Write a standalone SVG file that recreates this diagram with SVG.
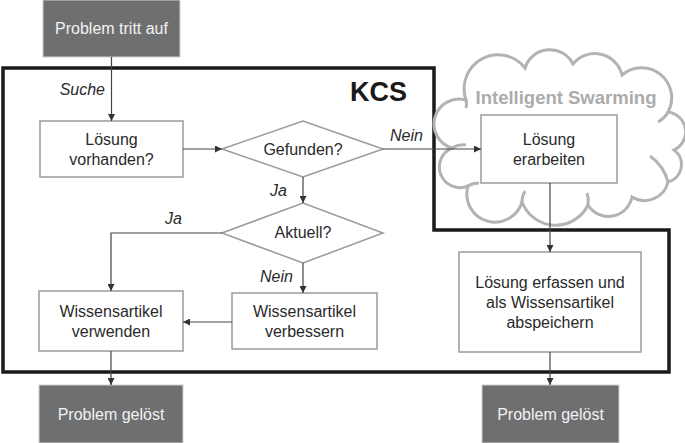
<svg xmlns="http://www.w3.org/2000/svg" width="685" height="443" viewBox="0 0 685 443">
<defs>
<marker id="ah" viewBox="0 0 10 10" refX="10" refY="5" markerWidth="7" markerHeight="7" markerUnits="userSpaceOnUse" orient="auto">
<path d="M0,0 L10,5 L0,10 z" fill="#333"/>
</marker>
<style>
.box{fill:#fff;stroke:#9a9a9a;stroke-width:1.5}
.dark{fill:#6e6f71;stroke:#d0d0d0;stroke-width:1}
.t{font-family:"Liberation Sans",Arial,sans-serif;font-size:16px;fill:#2a2a2a;text-anchor:middle}
.tw{font-family:"Liberation Sans",Arial,sans-serif;font-size:16px;fill:#f2f2f2;text-anchor:middle}
.lbl{font-family:"Liberation Sans",Arial,sans-serif;font-size:16px;font-style:italic;fill:#2a2a2a}
.c{fill:none;stroke:#444;stroke-width:1.2;marker-end:url(#ah)}
.hook{fill:none;stroke:#b3b3b3;stroke-width:3}
</style>
</defs>
<rect width="685" height="443" fill="#fff"/>
<!-- KCS boundary -->
<g id="kcs">
<path d="M3,68 H434 V230 H669 V372 H3 Z" fill="none" stroke="#1a1a1a" stroke-width="3.5"/>
<text x="378.5" y="101" style="font-family:'Liberation Sans',Arial,sans-serif;font-size:27px;font-weight:bold;fill:#1a1a1a;text-anchor:middle">KCS</text>
</g>
<!-- cloud -->
<g id="cloud">
<path d="M466,100 A34,34 0 0 1 525,68 A26,26 0 0 1 573,64 A28,28 0 0 1 622,75 A30,30 0 0 1 668,112 A20,20 0 0 1 674,150 A18,18 0 0 1 668,182 A24,24 0 0 1 632,197 A24,24 0 0 1 588,205 A36,36 0 0 1 522,202 A28,28 0 0 1 468,186 A20,20 0 0 1 452,148 A24,24 0 0 1 466,100 Z" fill="#fff" stroke="#b3b3b3" stroke-width="3"/>
<path class="hook" d="M466,100 q1,4 0,8"/>
<path class="hook" d="M452,148 q7,-4 14,-3"/>
<path class="hook" d="M668,112 q-3,6 -10,10"/>
<path class="hook" d="M668,182 q-4,-16 -18,-26"/>
<path class="hook" d="M588,205 q1,-6 -1,-12"/>
<path class="hook" d="M522,202 q0,-6 3,-11"/>
<path class="hook" d="M468,186 q5,-3 11,-3"/>
<text x="566" y="104" style="font-family:'Liberation Sans',Arial,sans-serif;font-size:18.5px;font-weight:bold;fill:#ababab;text-anchor:middle">Intelligent Swarming</text>
</g>
<g id="n_start">
<rect class="dark" x="43" y="0" width="137" height="57"/>
<text class="tw" x="111.5" y="34">Problem tritt auf</text>
</g>
<g id="n_vorhanden">
<rect class="box" x="40" y="121" width="143" height="56"/>
<text class="t" x="111.5" y="145">Lösung</text>
<text class="t" x="111.5" y="165">vorhanden?</text>
</g>
<g id="n_gefunden">
<polygon class="box" points="222,149 303,121 383,149 303,177"/>
<text class="t" x="303" y="155">Gefunden?</text>
</g>
<g id="n_aktuell">
<polygon class="box" points="222,233 303,203 383,233 303,263"/>
<text class="t" x="303" y="238">Aktuell?</text>
</g>
<g id="n_verwenden">
<rect class="box" x="39" y="291" width="144" height="60"/>
<text class="t" x="111" y="317">Wissensartikel</text>
<text class="t" x="111" y="337">verwenden</text>
</g>
<g id="n_verbessern">
<rect class="box" x="232" y="293" width="145" height="56"/>
<text class="t" x="304.5" y="317">Wissensartikel</text>
<text class="t" x="304.5" y="337">verbessern</text>
</g>
<g id="n_erarbeiten">
<rect class="box" x="481" y="115" width="136" height="68"/>
<text class="t" x="549" y="145">Lösung</text>
<text class="t" x="549" y="165">erarbeiten</text>
</g>
<g id="n_erfassen">
<rect class="box" x="459" y="252" width="182" height="100"/>
<text class="t" x="550" y="288">Lösung erfassen und</text>
<text class="t" x="550" y="308">als Wissensartikel</text>
<text class="t" x="550" y="328">abspeichern</text>
</g>
<g id="n_geloest1">
<rect class="dark" x="39" y="385" width="144" height="58"/>
<text class="tw" x="111" y="420">Problem gelöst</text>
</g>
<g id="n_geloest2">
<rect class="dark" x="482" y="385" width="137" height="58"/>
<text class="tw" x="550.5" y="420">Problem gelöst</text>
</g>
<g id="connectors">
<path class="c" d="M111.5,57 V121"/>
<path class="c" d="M183,149 H222"/>
<path class="c" d="M383,149 H481"/>
<path class="c" d="M303,177 V203"/>
<path class="c" d="M222,233 H111 V291"/>
<path class="c" d="M303,263 V293"/>
<path class="c" d="M232,322 H183"/>
<path class="c" d="M111,351 V385"/>
<path class="c" d="M550,183 V252"/>
<path class="c" d="M550,352 V385"/>
<text class="lbl" x="105" y="95" text-anchor="end">Suche</text>
<text class="lbl" x="390" y="141">Nein</text>
<text class="lbl" x="270" y="196">Ja</text>
<text class="lbl" x="165" y="224">Ja</text>
<text class="lbl" x="260" y="282">Nein</text>
</g>
</svg>
